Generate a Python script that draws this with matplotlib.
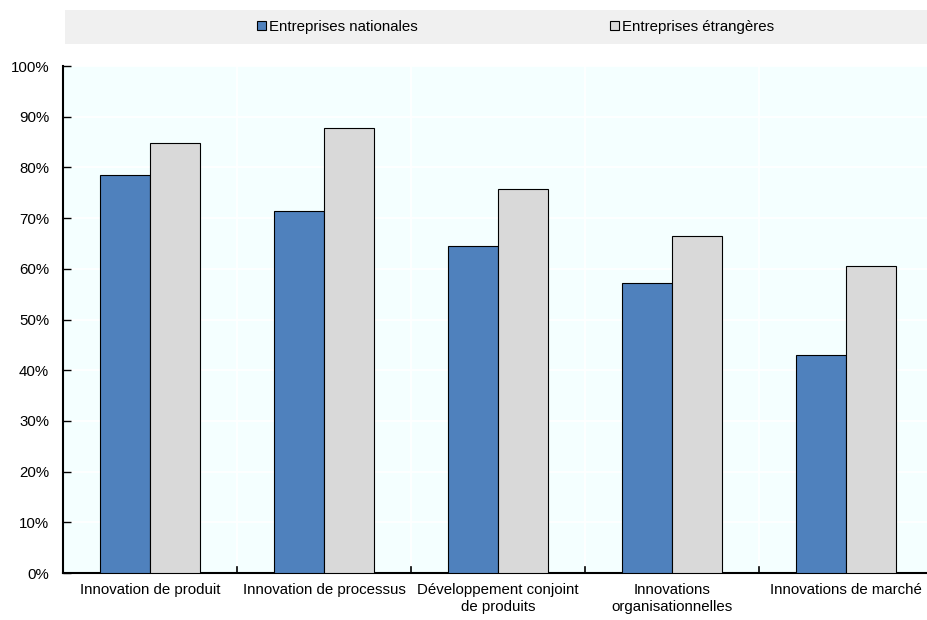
import matplotlib
matplotlib.use("Agg")
import matplotlib.pyplot as plt
from matplotlib.patches import Rectangle, Patch
import numpy as np

plt.rcParams['font.family'] = ['Liberation Sans', 'DejaVu Sans']
fs = 10.8

categories = [
    "Innovation de produit",
    "Innovation de processus",
    "Développement conjoint\nde produits",
    "Innovations\norganisationnelles",
    "Innovations de marché",
]
series_names = ["Entreprises nationales", "Entreprises étrangères"]
nationales = [78.5, 71.5, 64.5, 57.2, 43.0]
etrangeres = [84.9, 87.8, 75.8, 66.5, 60.6]
y_ticks = [0, 10, 20, 30, 40, 50, 60, 70, 80, 90, 100]

blue = "#4F81BD"
grey = "#D9D9D9"
bg = "#F4FFFF"

fig = plt.figure(figsize=(9.28, 6.2), dpi=100)
ax = fig.add_axes([0.0679, 0.0758, 0.9375, 0.8177])
ax.set_facecolor(bg)

x = np.arange(len(categories))
w = 0.287
ax.bar(x - w / 2, nationales, width=w, color=blue, edgecolor="black", linewidth=0.8, zorder=3)
ax.bar(x + w / 2, etrangeres, width=w, color=grey, edgecolor="black", linewidth=0.8, zorder=3)

ax.set_xlim(-0.5, len(categories) - 0.5)
ax.set_ylim(0, 100)
ax.set_yticks(y_ticks)
ax.set_yticklabels([f"{v}%" for v in y_ticks], fontsize=fs)
ax.set_xticks(x)
ax.set_xticklabels(categories, fontsize=fs, linespacing=1.3)
ax.tick_params(axis="x", length=0, pad=7)
ax.tick_params(axis="y", direction="in", length=6, width=1, pad=10)

# category separators: white grid lines plus small inward ticks on the baseline
for b in np.arange(0.5, len(categories) - 0.5, 1.0):
    ax.axvline(b, color="white", linewidth=1.2, zorder=1)
    ax.plot([b, b], [0, 1.2], color="black", linewidth=1.2, zorder=4, clip_on=False)
ax.yaxis.grid(True, color="white", linewidth=1.2, zorder=1)
ax.set_axisbelow(True)

for side in ("top", "right"):
    ax.spines[side].set_visible(False)
for side in ("left", "bottom"):
    ax.spines[side].set_linewidth(1.5)
    ax.spines[side].set_color("black")

# legend band
fig.patches.append(Rectangle((65 / 928, 1 - 44 / 620), 1 - 65 / 928, 34 / 620,
                             transform=fig.transFigure, facecolor="#F0F0F0",
                             edgecolor="none", zorder=0))
handles = [Patch(facecolor=blue, edgecolor="black", linewidth=0.8),
           Patch(facecolor=grey, edgecolor="black", linewidth=0.8)]
fig.legend(handles, series_names, loc="center", bbox_to_anchor=(0.5555, 1 - 27 / 620),
           ncol=2, frameon=False, fontsize=fs, handlelength=0.6, handleheight=0.6,
           handletextpad=0.2, columnspacing=12.8)

fig.savefig("out.png", dpi=100)
